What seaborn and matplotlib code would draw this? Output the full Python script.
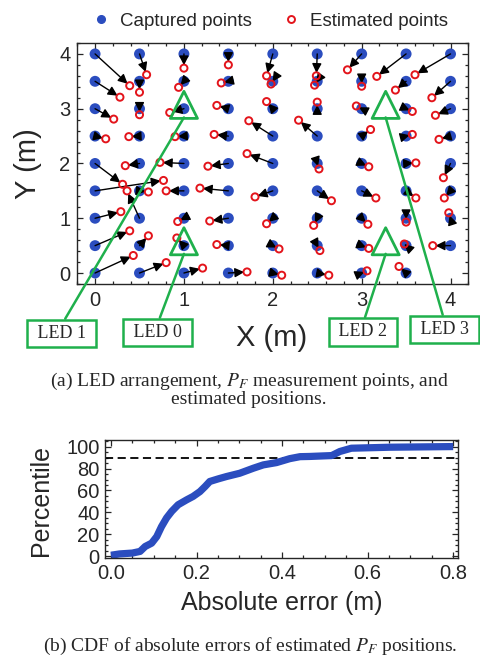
import numpy as np
import pandas as pd
import matplotlib
matplotlib.use('Agg')
import matplotlib.pyplot as plt
import seaborn as sns
from matplotlib.ticker import MultipleLocator
from matplotlib.lines import Line2D

# ---------------- data ----------------
grid_x = [0.0, 0.5, 1.0, 1.5, 2.0, 2.5, 3.0, 3.5, 4.0]
grid_y = [4.0, 3.5, 3.0, 2.5, 2.0, 1.5, 1.0, 0.5, 0.0]

# estimated positions, one row per captured row (y = 4 ... 0), columns x = 0 ... 4
est_x = [
    [0.39, 0.58, 1.00, 1.50, 1.93, 2.49, 2.84, 3.17, 3.60],
    [0.28, 0.50, 0.94, 1.42, 1.98, 2.47, 3.00, 3.38, 3.79],
    [0.21, 0.50, 0.84, 1.37, 1.93, 2.50, 2.94, 3.57, 3.83],
    [0.12, 0.38, 0.90, 1.34, 1.73, 2.29, 3.10, 3.57, 3.87],
    [0.31, 0.34, 0.73, 1.27, 1.71, 2.52, 3.08, 3.61, 3.92],
    [0.77, 0.60, 0.80, 1.18, 1.80, 2.66, 3.16, 3.61, 3.93],
    [0.29, 0.36, 0.93, 1.29, 1.93, 2.46, 3.07, 3.50, 3.98],
    [0.39, 0.60, 0.92, 1.37, 2.07, 2.53, 3.08, 3.48, 3.80],
    [0.43, 0.80, 1.21, 1.71, 2.10, 2.63, 3.06, 3.42, None],
]
est_y = [
    [3.42, 3.62, 3.74, 3.80, 3.60, 3.60, 3.71, 3.59, 3.62],
    [3.21, 3.30, 3.39, 3.47, 3.45, 3.43, 3.41, 3.34, 3.20],
    [2.81, 2.89, 2.93, 3.06, 3.13, 3.12, 3.05, 2.95, 2.88],
    [2.45, 2.49, 2.49, 2.53, 2.78, 2.79, 2.62, 2.53, 2.44],
    [1.62, 1.96, 2.02, 1.95, 2.18, 1.90, 1.94, 2.01, 1.74],
    [1.69, 1.48, 1.50, 1.55, 1.39, 1.32, 1.37, 1.37, 1.37],
    [1.12, 1.50, 0.94, 0.95, 0.90, 0.87, 0.89, 0.93, 1.10],
    [0.77, 0.68, 0.64, 0.52, 0.44, 0.41, 0.45, 0.53, 0.50],
    [0.32, 0.19, 0.09, 0.02, -0.04, -0.04, 0.04, 0.12, None],
]

led_names = ['LED 0', 'LED 1', 'LED 2', 'LED 3']
led_x = [1.0, 1.0, 3.27, 3.27]
led_y = [0.58, 3.07, 0.58, 3.07]

cdf_err = [0.0, 0.02, 0.05, 0.068, 0.08, 0.095, 0.107, 0.118, 0.13, 0.142,
           0.157, 0.177, 0.192, 0.208, 0.22, 0.231, 0.251, 0.27, 0.301, 0.333,
           0.356, 0.387, 0.418, 0.442, 0.465, 0.516, 0.535, 0.562, 0.652, 0.8]
cdf_pct = [1, 2.2, 3, 4.5, 9, 12, 18, 27, 35, 41,
           47, 51.5, 54.6, 59, 63.6, 68.2, 70.6, 72.7, 75.7, 80.3,
           83.3, 85.4, 89, 90.8, 91, 91.8, 95.5, 98.5, 99.4, 100]
threshold_pct = 90

# ---------------- table ----------------
rows = []
for i, gy in enumerate(grid_y):
    for j, gx in enumerate(grid_x):
        if est_x[i][j] is None:
            continue
        rows.append(dict(cx=gx, cy=gy, ex=est_x[i][j], ey=est_y[i][j]))
df = pd.DataFrame(rows)

# ---------------- style ----------------
sns.set_style('ticks')
plt.rcParams['font.family'] = ['Liberation Sans', 'DejaVu Sans']
plt.rcParams['mathtext.fontset'] = 'stix'

BLUE = '#2b4dbf'
RED = '#e3141b'
GREEN = '#1fb04c'
SERIF = ['Liberation Serif', 'DejaVu Serif']

fig = plt.figure(figsize=(4.81, 6.56), dpi=100)

# ---------------- top panel ----------------
ax = fig.add_axes([0.1607, 0.5671, 0.8129, 0.3674])
sns.scatterplot(data=df, x='cx', y='cy', color=BLUE, s=62, edgecolor='none',
                ax=ax, zorder=2, legend=False)
for _, r in df.iterrows():
    ax.annotate('', xy=(r.ex, r.ey), xytext=(r.cx, r.cy),
                arrowprops=dict(arrowstyle='-|>', color='black', lw=1.0,
                                mutation_scale=14, shrinkA=0, shrinkB=2),
                zorder=3)
sns.scatterplot(data=df, x='ex', y='ey', facecolor='none', edgecolor=RED,
                s=26, linewidth=1.4, ax=ax, zorder=4, legend=False)
sns.scatterplot(x=led_x, y=led_y, marker='^', s=380, facecolor='none',
                edgecolor=GREEN, linewidth=2.0, ax=ax, zorder=5, legend=False)

box_pos = {'LED 0': (157.5, 323.5), 'LED 1': (61.5, 322.5),
           'LED 2': (363, 324), 'LED 3': (444.5, 326.5)}
for name, lx, ly in zip(led_names, led_x, led_y):
    ax.annotate(' ' + name + ' ', xy=(lx, ly - 0.23), xycoords='data',
                xytext=box_pos[name], textcoords='figure pixels',
                ha='center', va='center', fontsize=13, family=SERIF,
                bbox=dict(boxstyle='square,pad=0.3', fc='white', ec=GREEN, lw=1.8),
                arrowprops=dict(arrowstyle='-', color=GREEN, lw=1.8,
                                relpos=(0.5, 1.0), shrinkA=0, shrinkB=0),
                annotation_clip=False, zorder=6)

ax.set_xlim(-0.2, 4.2)
ax.set_ylim(-0.2, 4.2)
ax.xaxis.set_major_locator(MultipleLocator(1))
ax.yaxis.set_major_locator(MultipleLocator(1))
ax.xaxis.set_minor_locator(MultipleLocator(0.2))
ax.yaxis.set_minor_locator(MultipleLocator(0.2))
ax.tick_params(which='both', direction='in', top=True, right=True, width=0.9,
               labelsize=14.5, pad=5)
ax.tick_params(which='major', length=4)
ax.tick_params(which='minor', length=2.5)
for s in ax.spines.values():
    s.set_linewidth(1.0)
ax.set_xlabel('X (m)', fontsize=21)
ax.set_ylabel('Y (m)', fontsize=21)
ax.xaxis.set_label_coords(0.498, -0.165)
ax.yaxis.set_label_coords(-0.09, 0.5)

handles = [Line2D([], [], ls='none', marker='o', ms=5.5, mfc=BLUE, mec=BLUE),
           Line2D([], [], ls='none', marker='o', ms=5, mfc='none', mec=RED, mew=1.4)]
fig.legend(handles, ['Captured points', 'Estimated points'], loc='center',
           bbox_to_anchor=(271 / 481, 1 - 21 / 656), ncol=2, frameon=False,
           fontsize=13.5, handlelength=0.8, handletextpad=0.6, columnspacing=1.7,
           borderpad=0)

fig.text(0.518, 1 - 381 / 656, r'(a) LED arrangement, $P_F$ measurement points, and',
         ha='center', va='center', fontsize=14, family=SERIF)
fig.text(0.518, 1 - 399 / 656, 'estimated positions.',
         ha='center', va='center', fontsize=14, family=SERIF)

# ---------------- bottom panel ----------------
bx = fig.add_axes([0.2183, 0.1494, 0.7345, 0.1799])
sns.lineplot(x=cdf_err, y=cdf_pct, color=BLUE, linewidth=5.2, ax=bx,
             solid_capstyle='butt')
bx.axhline(threshold_pct, color='black', lw=1.3, ls=(0, (4.5, 2.5)), zorder=1)
bx.set_xlim(-0.014, 0.812)
bx.set_ylim(-1.5, 106)
bx.xaxis.set_major_locator(MultipleLocator(0.2))
bx.yaxis.set_major_locator(MultipleLocator(20))
bx.xaxis.set_minor_locator(MultipleLocator(0.05))
bx.yaxis.set_minor_locator(MultipleLocator(5))
bx.set_xticks([0, 0.2, 0.4, 0.6, 0.8])
bx.set_xticklabels(['0.0', '0.2', '0.4', '0.6', '0.8'])
bx.tick_params(which='both', direction='in', top=True, right=True, width=0.9,
               labelsize=14.5, pad=4)
bx.tick_params(which='major', length=4)
bx.tick_params(which='minor', length=2)
for s in bx.spines.values():
    s.set_linewidth(1.0)
bx.set_xlabel('Absolute error (m)', fontsize=18)
bx.set_ylabel('Percentile', fontsize=18)
bx.xaxis.set_label_coords(0.501, -0.28)
bx.yaxis.set_label_coords(-0.146, 0.49)

fig.text(0.52, 1 - 646 / 656, r'(b) CDF of absolute errors of estimated $P_F$ positions.',
         ha='center', va='center', fontsize=14, family=SERIF)

fig.savefig('out.png', dpi=100)
